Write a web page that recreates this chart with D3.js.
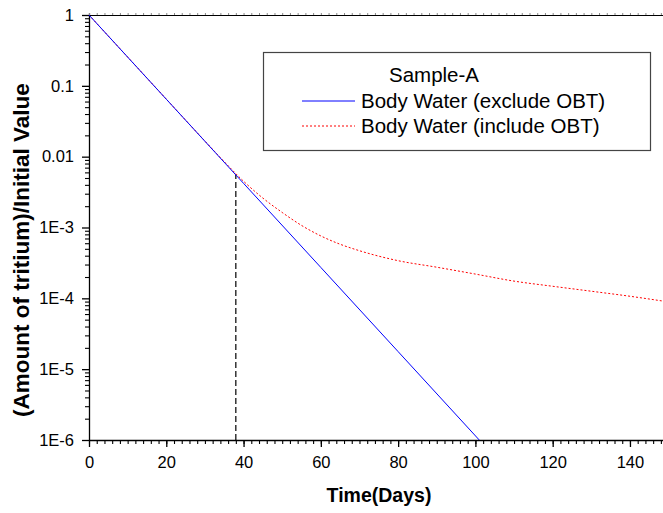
<!DOCTYPE html>
<html>
<head>
<meta charset="utf-8">
<script src="https://cdn.jsdelivr.net/npm/d3@7.9.0/dist/d3.min.js"></script>
<style>
  body { margin: 0; background: #fff; }
  svg { display: block; overflow: hidden; }
  text { font-family: "Liberation Sans", Arial, sans-serif; fill: #000; }
</style>
</head>
<body>
<svg id="chart" width="663" height="513"></svg>
<script>
// values
const excludeDays = [0, 20, 40, 60, 80, 101];
const excludeValues = [1, 0.0648, 0.0042, 2.73e-4, 1.77e-5, 1e-6];

const includeDays = [0, 10, 20, 30, 35, 40, 45, 50, 55, 60, 65, 70, 80, 90, 100, 110, 120, 130, 140, 150];
const includeValues = [1, 0.255, 0.065, 0.0166, 0.0085, 0.0045, 0.0026, 0.00163, 0.00107, 0.00076,
  0.00058, 0.00047, 0.00034, 0.000275, 0.00022, 0.000175, 0.000148, 0.000126, 0.000107, 0.000089];

const markerDay = 38;
const markerValue = 0.0055;

const xTicks = [0, 20, 40, 60, 80, 100, 120, 140];
const yTicks = [1e-6, 1e-5, 1e-4, 1e-3, 0.01, 0.1, 1];
const yTickLabels = ['1E-6', '1E-5', '1E-4', '1E-3', '0.01', '0.1', '1'];

const seriesNames = ['Body Water (exclude OBT)', 'Body Water (include OBT)'];
const legendTitle = 'Sample-A';

const svg = d3.select('#chart');
const plotLeft = 89, plotTop = 15, plotBottom = 440;

const x = d3.scaleLinear().domain([0, 150]).range([plotLeft, 668.6]);
const y = d3.scaleLog().domain([1e-6, 1]).range([plotBottom, plotTop]);

// minor ticks
const xMinor = d3.range(0, 151, 2);
const yMinor = [];
for (let e = -6; e < 0; e++) {
  for (let m = 2; m <= 9; m++) yMinor.push(m * Math.pow(10, e));
}

// top frame line with tiny ticks
svg.append('g')
  .attr('transform', `translate(0,${plotTop})`)
  .call(d3.axisTop(x).tickValues(xMinor).tickSize(2).tickFormat(''))
  .call(g => g.selectAll('.tick line').attr('stroke', '#888'))
  .call(g => g.select('.domain').attr('stroke', '#000').attr('stroke-width', 1.2));

// x axis
svg.append('g')
  .attr('transform', `translate(0,${plotBottom})`)
  .call(d3.axisBottom(x).tickValues(xMinor).tickSize(4).tickFormat(''))
  .call(g => g.selectAll('.tick line').attr('stroke-width', 1.1))
  .call(g => g.select('.domain').remove());
svg.append('g')
  .attr('transform', `translate(0,${plotBottom})`)
  .call(d3.axisBottom(x).tickValues(xTicks).tickSize(7).tickSizeOuter(0).tickPadding(9))
  .call(g => g.selectAll('text').attr('font-size', 16.5).attr('font-family', '"Liberation Sans", Arial, sans-serif'))
  .call(g => g.selectAll('.tick line').attr('stroke-width', 1.3))
  .call(g => g.select('.domain').attr('stroke-width', 1.3));

// y axis
svg.append('g')
  .attr('transform', `translate(${plotLeft},0)`)
  .call(d3.axisLeft(y).tickValues(yMinor).tickSize(4).tickFormat(''))
  .call(g => g.selectAll('.tick line').attr('stroke-width', 1.1))
  .call(g => g.select('.domain').remove());
svg.append('g')
  .attr('transform', `translate(${plotLeft},0)`)
  .call(d3.axisLeft(y).tickValues(yTicks).tickSize(7).tickSizeOuter(0).tickPadding(8)
    .tickFormat((d, i) => yTickLabels[i]))
  .call(g => g.selectAll('text').attr('font-size', 16.5).attr('font-family', '"Liberation Sans", Arial, sans-serif'))
  .call(g => g.selectAll('.tick line').attr('stroke-width', 1.3))
  .call(g => g.select('.domain').attr('stroke-width', 1.3));

// axis titles
svg.append('text')
  .attr('x', 379).attr('y', 502)
  .attr('text-anchor', 'middle')
  .attr('font-size', 19.5).attr('font-weight', 'bold')
  .text('Time(Days)');
svg.append('text')
  .attr('transform', 'translate(29,250) rotate(-90)')
  .attr('text-anchor', 'middle')
  .attr('font-size', 22.5).attr('font-weight', 'bold')
  .text('(Amount of tritium)/Initial Value');

// dashed marker line
svg.append('line')
  .attr('x1', x(markerDay)).attr('x2', x(markerDay))
  .attr('y1', y(1e-6)).attr('y2', y(markerValue))
  .attr('stroke', '#000').attr('stroke-width', 1.2)
  .attr('stroke-dasharray', '6,3');

// series
const lineGen = d3.line().curve(d3.curveMonotoneX);
svg.append('path')
  .attr('d', lineGen(includeDays.map((d, i) => [x(d), y(includeValues[i])])))
  .attr('fill', 'none').attr('stroke', '#ff0000').attr('stroke-width', 1)
  .attr('stroke-dasharray', '2,2');
svg.append('path')
  .attr('d', lineGen(excludeDays.map((d, i) => [x(d), y(excludeValues[i])])))
  .attr('fill', 'none').attr('stroke', '#0000ff').attr('stroke-width', 1);

// legend
const legend = svg.append('g');
legend.append('rect')
  .attr('x', 263.5).attr('y', 52.5).attr('width', 387).attr('height', 98)
  .attr('fill', '#fff').attr('stroke', '#444').attr('stroke-width', 1.2);
legend.append('text')
  .attr('x', 434).attr('y', 82).attr('text-anchor', 'middle')
  .attr('font-size', 20.5).text(legendTitle);
const legendStyles = [
  { color: '#0000ff', dash: null },
  { color: '#ff0000', dash: '2,2' }
];
seriesNames.forEach((name, i) => {
  const yy = 101 + i * 25;
  legend.append('line')
    .attr('x1', 302).attr('x2', 355).attr('y1', yy).attr('y2', yy)
    .attr('stroke', legendStyles[i].color).attr('stroke-width', 1)
    .attr('stroke-dasharray', legendStyles[i].dash);
  legend.append('text')
    .attr('x', 361).attr('y', yy + 7)
    .attr('font-size', 20.5).text(name);
});
</script>
</body>
</html>
